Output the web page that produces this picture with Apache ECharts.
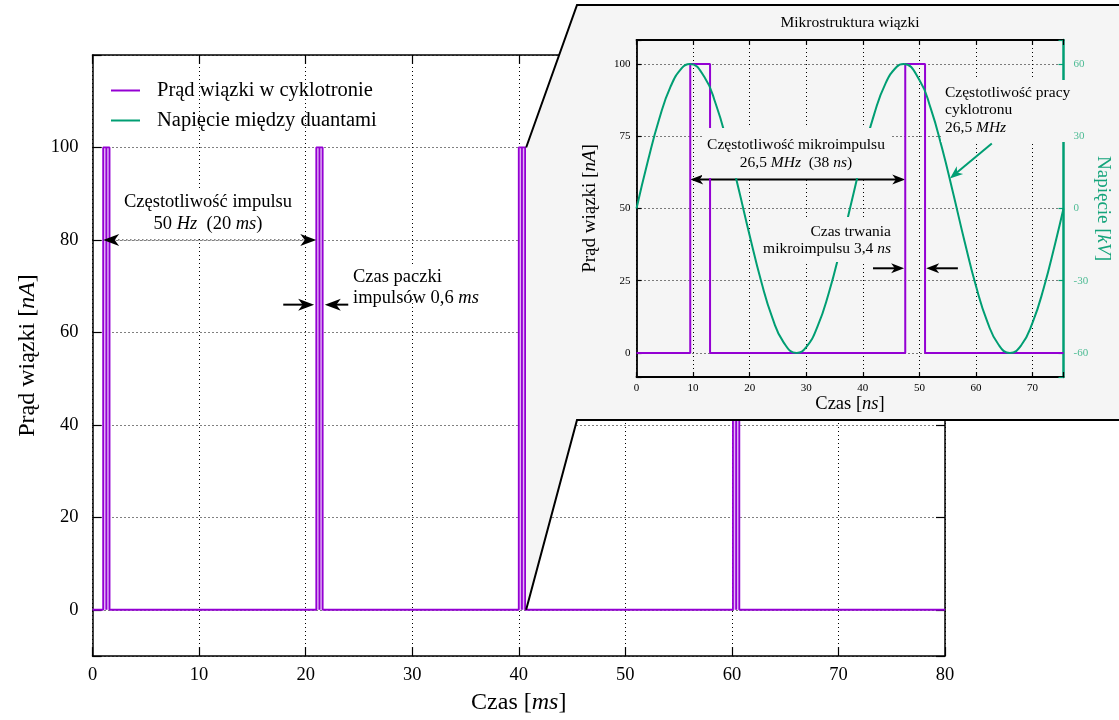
<!DOCTYPE html>
<html><head><meta charset="utf-8">
<script src="https://cdn.jsdelivr.net/npm/echarts@6/dist/echarts.min.js"></script>
<style>html,body{margin:0;padding:0;background:#fff}#c{width:1119px;height:720px}</style>
</head><body><div id="c"></div>
<script>
// ---------------- data ----------------
const mainXRange = [0, 80];            // ms
const mainYRange = [-10, 120];         // nA
const mainYTicks = [0, 20, 40, 60, 80, 100];
const pulseStart = [1.0, 21.0, 40.0, 60.1];   // ms
const pulseMid   = [1.3, 21.3, 40.3, 60.4];
const pulseEnd   = [1.6, 21.6, 40.6, 60.7];
const pulseLevel = 100;                // nA

const insetXRange = [0, 75.47];        // ns
const insetYRange = [-25 / 3, 325 / 3];// nA
const insetYTicks = [0, 25, 50, 75, 100];
const insetVRange = [-70, 70];         // kV
const insetVTicks = [-60, -30, 0, 30, 60];
const bunchStart = [9.5, 47.5];        // ns
const bunchEnd   = [13.0, 51.0];
const rfTime    = [0, 2, 4, 6, 8, 9.4, 12, 14, 16, 18, 20, 22, 24, 26, 28.3, 30, 32, 34, 36, 38, 40, 42, 44, 46, 47.2, 50, 52, 54, 56, 58, 60, 62, 64, 66, 68, 70, 72, 74, 75.47];
const rfVoltage = [0, 19.6, 37.1, 50.5, 58.3, 60.0, 54.6, 43.5, 27.5, 8.6, -11.2, -29.9, -45.3, -55.6, -60.0, -57.6, -49.0, -35.0, -17.1, 2.7, 22.1, 39.1, 51.9, 58.9, 60.0, 53.4, 41.6, 25.1, 6.0, -13.8, -32.2, -47.0, -56.6, -60.0, -56.8, -47.4, -32.8, -14.5, 0];

const nameCurrent = 'Prąd wiązki w cyklotronie';
const nameVoltage = 'Napięcie między duantami';

// ---------------- build ----------------
const F = "'Liberation Serif','Times New Roman',serif";
const purple = '#9400D3', green = '#009E73', greenLbl = '#4dbb94';

const mainData = [[mainXRange[0], 0]];
pulseStart.forEach((s, i) => {
  mainData.push([s, 0], [s, pulseLevel], [pulseMid[i], pulseLevel], [pulseMid[i], 0],
                [pulseMid[i], pulseLevel], [pulseEnd[i], pulseLevel], [pulseEnd[i], 0]);
});
mainData.push([mainXRange[1], 0]);

const insetData = [[insetXRange[0], 0]];
bunchStart.forEach((s, i) => {
  insetData.push([s, 0], [s, pulseLevel], [bunchEnd[i], pulseLevel], [bunchEnd[i], 0]);
});
insetData.push([insetXRange[1], 0]);

const rfData = rfTime.map((t, i) => [t, rfVoltage[i]]);

const dotted = {show: true, lineStyle: {color: '#000', width: 1, type: [1, 3]}};
const noSplit = {show: false};
const axLine = (w, c) => ({show: true, onZero: false, lineStyle: {color: c || '#000', width: w}});
const tickIn = (len, color) => ({show: true, inside: true, length: len, lineStyle: {color: color || '#000', width: 1.2}});
const italic = (size, color) => ({fontFamily: F, fontSize: size, fontStyle: 'italic', color: color || '#000'});
const near = (v, arr) => arr.some(a => Math.abs(a - v) < 1e-6);

const option = {
  animation: false,
  backgroundColor: '#fff',
  grid: [
    {left: 92.5, top: 55, width: 852.5, height: 603.5, show: false},
    {left: 636.5, top: 40, width: 427, height: 337, show: false}
  ],
  legend: {
    left: 106, top: 75, orient: 'vertical', icon: 'rect', itemWidth: 29, itemHeight: 2, itemGap: 9,
    selectedMode: false, data: [nameCurrent, nameVoltage],
    textStyle: {fontFamily: F, fontSize: 20.5, color: '#000', padding: [0, 0, 0, 12]}
  },
  xAxis: [
    {gridIndex: 0, type: 'value', min: mainXRange[0], max: mainXRange[1], interval: 10, position: 'bottom',
     axisLine: axLine(1.5), axisTick: tickIn(9), splitLine: dotted,
     axisLabel: {margin: 10, fontFamily: F, fontSize: 18.5, color: '#000'},
     name: 'Czas [{i|ms}]', nameLocation: 'middle', nameGap: 35,
     nameTextStyle: {fontFamily: F, fontSize: 24, color: '#000', rich: {i: italic(24)}}},
    {gridIndex: 0, type: 'value', min: mainXRange[0], max: mainXRange[1], interval: 10, position: 'top',
     axisLine: axLine(1.5), axisTick: tickIn(9), splitLine: noSplit, axisLabel: {show: false}},
    {gridIndex: 1, type: 'value', min: insetXRange[0], max: insetXRange[1], interval: 10, position: 'bottom', z: 6,
     axisLine: axLine(1.8), axisTick: tickIn(5), splitLine: dotted,
     axisLabel: {margin: 6, fontFamily: F, fontSize: 11, color: '#000', formatter: v => (Math.abs(v % 10) < 1e-6 ? String(v) : '')},
     name: 'Czas [{i|ns}]', nameLocation: 'middle', nameGap: 18,
     nameTextStyle: {fontFamily: F, fontSize: 18.5, color: '#000', rich: {i: italic(18.5)}}},
    {gridIndex: 1, type: 'value', min: insetXRange[0], max: insetXRange[1], interval: 10, position: 'top', z: 6,
     axisLine: axLine(1.8), axisTick: tickIn(5), splitLine: noSplit, axisLabel: {show: false}}
  ],
  yAxis: [
    {gridIndex: 0, type: 'value', min: mainYRange[0], max: mainYRange[1], minInterval: 20, maxInterval: 20, position: 'left',
     axisLine: axLine(1.5), axisTick: tickIn(9), splitLine: dotted,
     axisLabel: {margin: 14, fontFamily: F, fontSize: 18.5, color: '#000', formatter: v => (near(v, mainYTicks) ? String(v) : '')},
     name: 'Prąd wiązki [{i|nA}]', nameLocation: 'middle', nameGap: 50,
     nameTextStyle: {fontFamily: F, fontSize: 24, color: '#000', rich: {i: italic(24)}}},
    {gridIndex: 0, type: 'value', min: mainYRange[0], max: mainYRange[1], minInterval: 20, maxInterval: 20, position: 'right',
     axisLine: axLine(1.5), axisTick: tickIn(9), splitLine: noSplit, axisLabel: {show: false}},
    {gridIndex: 1, type: 'value', min: insetYRange[0], max: insetYRange[1], minInterval: 25, maxInterval: 25, position: 'left', z: 6,
     axisLine: axLine(1.8), axisTick: tickIn(5), splitLine: dotted,
     axisLabel: {margin: 6, fontFamily: F, fontSize: 11, color: '#000', formatter: v => (near(v, insetYTicks) ? String(v) : '')},
     name: 'Prąd wiązki [{i|nA}]', nameLocation: 'middle', nameGap: 37,
     nameTextStyle: {fontFamily: F, fontSize: 19, color: '#000', rich: {i: italic(19)}}},
    {gridIndex: 1, type: 'value', min: insetVRange[0], max: insetVRange[1], minInterval: 30, maxInterval: 30, position: 'right', z: 6,
     axisLine: axLine(2.5, green), axisTick: tickIn(5, green), splitLine: noSplit,
     axisLabel: {show: false},
     name: 'Napięcie [{i|kV}]', nameLocation: 'middle', nameGap: 30, nameRotate: -90,
     nameTextStyle: {fontFamily: F, fontSize: 19, color: '#14a47b', rich: {i: italic(19, '#14a47b')}}},
    {gridIndex: 1, type: 'value', min: insetVRange[0], max: insetVRange[1], minInterval: 30, maxInterval: 30, position: 'right', z: 9,
     axisLine: {show: false, onZero: false}, axisTick: {show: false}, splitLine: noSplit,
     axisLabel: {margin: 10, fontFamily: F, fontSize: 11, color: greenLbl, formatter: v => (near(v, insetVTicks) ? String(v) : '')}}
  ],
  series: [
    {name: nameCurrent, type: 'line', xAxisIndex: 0, yAxisIndex: 0, data: mainData, symbol: 'none', z: 2,
     lineStyle: {color: purple, width: 1.8}, itemStyle: {color: purple},
     areaStyle: {color: '#e3b6f6', opacity: 1}, silent: true},
    {name: nameCurrent, type: 'line', xAxisIndex: 2, yAxisIndex: 2, data: insetData, symbol: 'none', z: 7,
     lineStyle: {color: purple, width: 2}, itemStyle: {color: purple}, silent: true},
    {name: nameVoltage, type: 'line', xAxisIndex: 2, yAxisIndex: 3, data: rfData, symbol: 'none', smooth: true, z: 7,
     lineStyle: {color: green, width: 2}, itemStyle: {color: green}, silent: true}
  ]
};

const chart = echarts.init(document.getElementById('c'));
chart.setOption(option);

// ---------------- annotations ----------------
const P = (xi, yi, v) => chart.convertToPixel({xAxisIndex: xi, yAxisIndex: yi}, v);

function arrow(p0, p1, o) {
  const dx = p1[0] - p0[0], dy = p1[1] - p0[1], len = Math.hypot(dx, dy);
  const ux = dx / len, uy = dy / len, nx = -uy, ny = ux, L = o.L, W = o.W;
  const head = (t, sx, sy) => ({type: 'polygon', z: o.z, silent: true,
    shape: {points: [t, [t[0] - sx * L + nx * W, t[1] - sy * L + ny * W], [t[0] - sx * L * 0.72, t[1] - sy * L * 0.72], [t[0] - sx * L - nx * W, t[1] - sy * L - ny * W]]},
    style: {fill: o.color}});
  const a = o.both ? [p0[0] + ux * L * 0.7, p0[1] + uy * L * 0.7] : p0;
  const b = [p1[0] - ux * L * 0.7, p1[1] - uy * L * 0.7];
  const els = [{type: 'line', z: o.z, silent: true, shape: {x1: a[0], y1: a[1], x2: b[0], y2: b[1]},
    style: {stroke: o.color, lineWidth: o.width, lineDash: o.dash || null}}, head(p1, ux, uy)];
  if (o.both) els.push(head(p0, -ux, -uy));
  return els;
}

function txt(text, x, y, size, align, z, color) {
  color = color || '#000';
  return {type: 'text', z: z, silent: true,
    style: {text: text, x: x, y: y, fontFamily: F, fontSize: size, fill: color,
      align: align, textAlign: align, verticalAlign: 'middle', textVerticalAlign: 'middle',
      rich: {n: {fontFamily: F, fontSize: size, fill: color, color: color},
             i: {fontFamily: F, fontSize: size, fontStyle: 'italic', fill: color, color: color}}}};
}
function box(x, y, w, h, fill, z) {
  return {type: 'rect', z: z, silent: true, shape: {x: x, y: y, width: w, height: h}, style: {fill: fill}};
}

const p3top = P(0, 0, [pulseEnd[2], pulseLevel]);
const p3bot = P(0, 0, [pulseEnd[2], 0]);
const insetTop = 5, insetBottom = 420, insetLeft = 577;

let g = [];
// inset background
g.push({type: 'polygon', z: 5, silent: true,
  shape: {points: [[p3top[0] + 1, p3top[1]], [insetLeft, insetTop], [1130, insetTop], [1130, insetBottom], [insetLeft, insetBottom], [p3bot[0] + 1, p3bot[1]]]},
  style: {fill: '#f5f5f5'}});
g.push({type: 'polyline', z: 5, silent: true, shape: {points: [[p3top[0] + 1, p3top[1]], [insetLeft, insetTop], [1130, insetTop]]}, style: {stroke: '#000', lineWidth: 2, fill: null}});
g.push({type: 'polyline', z: 5, silent: true, shape: {points: [[p3bot[0] + 1, p3bot[1]], [insetLeft, insetBottom], [1130, insetBottom]]}, style: {stroke: '#000', lineWidth: 2, fill: null}});

// main annotations
g.push(box(121, 188, 175, 48, '#fff', 1));
g.push(txt('{n|Częstotliwość impulsu}', 208, 202, 18.5, 'center', 3));
g.push(txt('{n|50 }{i|Hz}{n|  (20 }{i|ms}{n|)}', 208, 224, 18.5, 'center', 3));
g.push(...arrow(P(0, 0, [1.0, 80]), P(0, 0, [21.0, 80]), {color: '#000', width: 1.2, L: 16, W: 6, both: true, dash: [1, 3], z: 3}));
g.push(box(349, 264, 134, 34, '#fff', 1));
g.push(txt('{n|Czas paczki}', 353, 277, 18.5, 'left', 3));
g.push(txt('{n|impulsów 0,6 }{i|ms}', 353, 298, 18.5, 'left', 3));
g.push(...arrow(P(0, 0, [17.9, 66]), P(0, 0, [20.8, 66]), {color: '#000', width: 2, L: 16, W: 6, z: 3}));
g.push(...arrow(P(0, 0, [24.0, 66]), P(0, 0, [21.8, 66]), {color: '#000', width: 2, L: 16, W: 6, z: 3}));

// inset annotations
g.push(txt('{n|Mikrostruktura wiązki}', 850, 23, 15.5, 'center', 9));
g.push(...arrow(P(2, 2, [bunchStart[0], 60]), P(2, 2, [bunchStart[1], 60]), {color: '#000', width: 2, L: 13, W: 5, both: true, z: 7}));
g.push(...arrow(P(2, 2, [41.8, 29.3]), P(2, 2, [47.3, 29.3]), {color: '#000', width: 2, L: 13, W: 5, z: 7}));
g.push(...arrow(P(2, 2, [56.8, 29.3]), P(2, 2, [51.2, 29.3]), {color: '#000', width: 2, L: 13, W: 5, z: 7}));
g.push(...arrow(P(2, 3, [62.8, 27]), P(2, 3, [55.4, 12.5]), {color: green, width: 2, L: 13, W: 5, z: 7}));

g.push(box(702, 128, 190, 50, '#f5f5f5', 8));
g.push(txt('{n|Częstotliwość mikroimpulsu}', 796, 145, 15.5, 'center', 9));
g.push(txt('{n|26,5 }{i|MHz}{n|  (38 }{i|ns}{n|)}', 796, 163, 15.5, 'center', 9));
g.push(box(758, 217, 138, 45, '#f5f5f5', 8));
g.push(txt('{n|Czas trwania}', 891, 232, 15.5, 'right', 9));
g.push(txt('{n|mikroimpulsu 3,4 }{i|ns}', 891, 249, 15.5, 'right', 9));
g.push(box(941, 80, 136, 62, '#f5f5f5', 8));
g.push(txt('{n|Częstotliwość pracy}', 945, 93, 15.5, 'left', 9));
g.push(txt('{n|cyklotronu}', 945, 110, 15.5, 'left', 9));
g.push(txt('{n|26,5 }{i|MHz}', 945, 128, 15.5, 'left', 9));

chart.setOption({graphic: {elements: g}});
</script>
</body></html>
